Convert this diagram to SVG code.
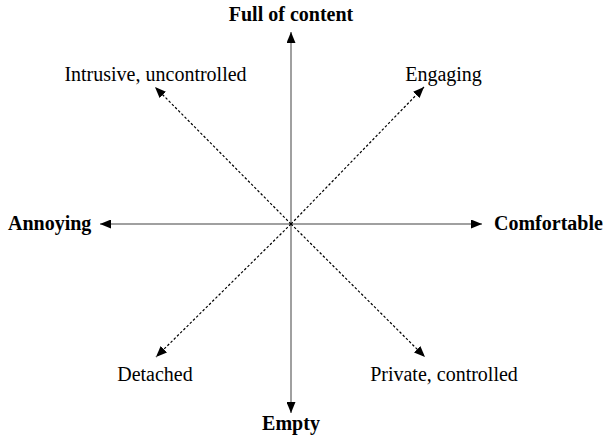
<svg xmlns="http://www.w3.org/2000/svg" width="604" height="436" viewBox="0 0 604 436">
<style>
.ax{stroke:#808080;stroke-width:1.5;fill:none}
.dg{stroke:#000;stroke-width:1.2;stroke-dasharray:2.5,2;fill:none}
.b{font-family:"Liberation Serif",serif;font-weight:bold;font-size:20px;fill:#000}
.r{font-family:"Liberation Serif",serif;font-size:20px;fill:#000}
</style>
<defs>
<marker id="ah" markerWidth="11" markerHeight="9" refX="11" refY="4.5" orient="auto" markerUnits="userSpaceOnUse">
<path d="M0,0 L11,4.5 L0,9 Z" fill="#000"/>
</marker>
</defs>
<rect width="604" height="436" fill="#fff"/>
<g id="connectors">
<line class="ax" x1="291" y1="224" x2="291" y2="32" marker-end="url(#ah)"/>
<line class="ax" x1="291" y1="224" x2="291" y2="413" marker-end="url(#ah)"/>
<line class="ax" x1="291" y1="224" x2="100" y2="224" marker-end="url(#ah)"/>
<line class="ax" x1="291" y1="224" x2="482" y2="224" marker-end="url(#ah)"/>
<line class="dg" x1="291" y1="224" x2="155" y2="87" marker-end="url(#ah)"/>
<line class="dg" x1="291" y1="224" x2="424" y2="87" marker-end="url(#ah)"/>
<line class="dg" x1="291" y1="224" x2="156" y2="357" marker-end="url(#ah)"/>
<line class="dg" x1="291" y1="224" x2="425" y2="357" marker-end="url(#ah)"/>
</g>
<g id="full"><text class="b" x="291" y="21" text-anchor="middle">Full of content</text></g>
<g id="empty"><text class="b" x="291" y="430" text-anchor="middle">Empty</text></g>
<g id="annoying"><text class="b" x="8" y="230">Annoying</text></g>
<g id="comfortable"><text class="b" x="494" y="230">Comfortable</text></g>
<g id="intrusive"><text class="r" x="155.5" y="81" text-anchor="middle">Intrusive, uncontrolled</text></g>
<g id="engaging"><text class="r" x="443.5" y="81" text-anchor="middle">Engaging</text></g>
<g id="detached"><text class="r" x="155" y="381" text-anchor="middle">Detached</text></g>
<g id="private"><text class="r" x="444" y="381" text-anchor="middle">Private, controlled</text></g>
</svg>
